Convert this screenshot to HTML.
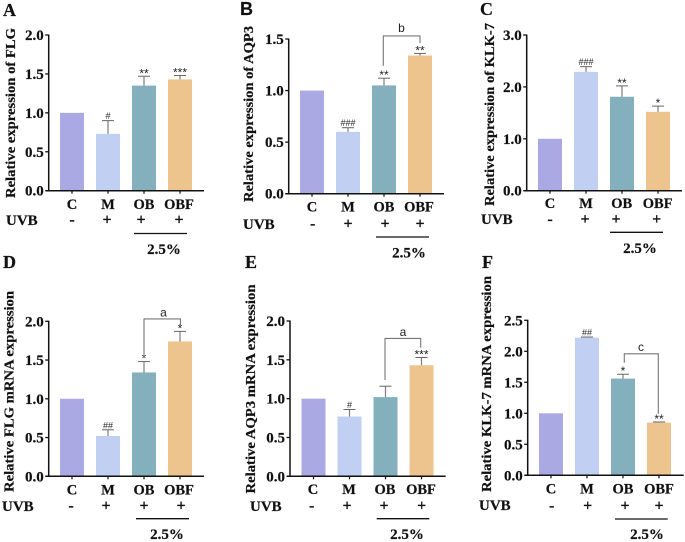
<!DOCTYPE html>
<html lang="en">
<head>
<meta charset="utf-8">
<title>Relative expression charts</title>
<style>
html,body{margin:0;padding:0;background:#fff;width:685px;height:542px;overflow:hidden}
svg{display:block;filter:blur(0.3px)}
.s{font-family:"Liberation Serif",serif;font-weight:bold;fill:#111;stroke:#111;stroke-width:0.2px}
.a{font-family:"Liberation Sans",sans-serif;fill:#222}
</style>
</head>
<body>
<svg id="figure" xmlns="http://www.w3.org/2000/svg" width="685" height="542" viewBox="0 0 685 542"></svg>
<script>
const categories = ['C', 'M', 'OB', 'OBF'];
const uvbSigns = ['-', '+', '+', '+'];
const barColors = ['#aaa9e3', '#c1cff3', '#83b0bc', '#edc48e'];

const ticksA = ['0.0', '0.5', '1.0', '1.5', '2.0'];
const ticksB = ['0.0', '0.5', '1.0', '1.5'];
const ticksC = ['0.0', '1.0', '2.0', '3.0'];
const ticksD = ['0.0', '0.5', '1.0', '1.5', '2.0'];
const ticksE = ['0.0', '0.5', '1.0', '1.5', '2.0'];
const ticksF = ['0.0', '0.5', '1.0', '1.5', '2.0', '2.5'];

const valuesA = [1, 0.73, 1.35, 1.43];
const valuesB = [1, 0.6, 1.05, 1.34];
const valuesC = [1, 2.29, 1.81, 1.52];
const valuesD = [1, 0.52, 1.34, 1.74];
const valuesE = [1, 0.77, 1.02, 1.43];
const valuesF = [1, 2.22, 1.56, 0.85];

const errorsA = [0, 0.17, 0.12, 0.05];
const errorsB = [0, 0.04, 0.07, 0.02];
const errorsC = [0, 0.10, 0.21, 0.11];
const errorsD = [0, 0.08, 0.14, 0.13];
const errorsE = [0, 0.09, 0.14, 0.10];
const errorsF = [0, 0.01, 0.07, 0.01];

const marksA = ['', '#', '**', '***'];
const marksB = ['', '###', '**', '**'];
const marksC = ['', '###', '**', '*'];
const marksD = ['', '##', '*', '*'];
const marksE = ['', '#', '', '***'];
const marksF = ['', '##', '*', '**'];

const titleA = 'Relative expression of FLG';
const titleB = 'Relative expression of AQP3';
const titleC = 'Relative expression of KLK-7';
const titleD = 'Relative FLG mRNA expression';
const titleE = 'Relative AQP3 mRNA expression';
const titleF = 'Relative KLK-7 mRNA expression';

/* bracket values: [left-end value, top value, right-end value] */
const bracketB = [1.24, 1.53, 1.46];
const bracketD = [1.54, 2.03, 1.95];
const bracketE = [1.24, 1.775, 1.655];
const bracketF = [1.816, 1.96, 0.99];

/* Layout only (no data) */
const panels = [
 {id:'A',ticks:ticksA,values:valuesA,errors:errorsA,marks:marksA,title:titleA,bracket:null,letter:'',
  ax:48.7,base:190.7,top:35,right:204,bar0:60,
  lx:3,ly:16,sans:false,tx:15,tc:113,tl:170,
  catY:209,catX:[72,108,144,179],uvbX:6,uvbY:225,signX:[72,107,141,179],signY:220,
  ln:[134,187,233.5],pctX:164,pctY:254},
 {id:'B',ticks:ticksB,values:valuesB,errors:errorsB,marks:marksB,title:titleB,bracket:bracketB,letter:'b',
  ax:288.7,base:193.7,top:39,right:444,bar0:300,
  lx:240,ly:15,sans:true,tx:253,tc:114,tl:176,
  catY:211.5,catX:[312,348,384,419],uvbX:243,uvbY:229,signX:[312.7,348,385,420],signY:224,
  ln:[376,429,237],pctX:409,pctY:257.5,brX:[383.3,420],brL:[401.5,32]},
 {id:'C',ticks:ticksC,values:valuesC,errors:errorsC,marks:marksC,title:titleC,bracket:null,letter:'',
  ax:526.7,base:190.7,top:35,right:682,bar0:538,
  lx:480,ly:15,sans:false,tx:494,tc:114.5,tl:183,
  catY:208,catX:[550,586,621.7,657.7],uvbX:481,uvbY:224,signX:[550,585,616,656.7],signY:219.7,
  ln:[610,663,232.3],pctX:640,pctY:253},
 {id:'D',ticks:ticksD,values:valuesD,errors:errorsD,marks:marksD,title:titleD,bracket:bracketD,letter:'a',
  ax:48.7,base:476.3,top:321.3,right:204,bar0:60,
  lx:3,ly:268,sans:false,tx:13.5,tc:391.5,tl:201,
  catY:494.3,catX:[72,108,144,179],uvbX:2,uvbY:511,signX:[71,106,144,181],signY:506,
  ln:[136,189,518.7],pctX:167,pctY:539,brX:[144,180.5],brL:[163.5,316.5]},
 {id:'E',ticks:ticksE,values:valuesE,errors:errorsE,marks:marksE,title:titleE,bracket:bracketE,letter:'a',
  ax:290,base:476.3,top:321,right:445.7,bar0:301.5,
  lx:245,ly:268,sans:false,tx:255,tc:389,tl:209,
  catY:494,catX:[313,349,385,421],uvbX:250,uvbY:511,signX:[311.7,347,384,421.7],signY:506,
  ln:[376.7,429.3,518.7],pctX:407,pctY:539,brX:[385,420.7],brL:[403,336]},
 {id:'F',ticks:ticksF,values:valuesF,errors:errorsF,marks:marksF,title:titleF,bracket:bracketF,letter:'c',
  ax:527.7,base:475.3,top:320.3,right:683.7,bar0:539,
  lx:482,ly:268,sans:false,tx:491,tc:384,tl:216,
  catY:493.7,catX:[551,587,623,659],uvbX:479,uvbY:510,signX:[551.7,587.7,625,659],signY:506,
  ln:[615,667.7,519],pctX:647,pctY:539,brX:[624.3,658.3],brL:[641,351]}
];

const NS = 'http://www.w3.org/2000/svg';
const BAR_W = 24, BAR_STEP = 36;

function make(tag, attrs, parent, text) {
  const el = document.createElementNS(NS, tag);
  for (const k in attrs) el.setAttribute(k, attrs[k]);
  if (text !== undefined) el.textContent = text;
  parent.appendChild(el);
  return el;
}

const fig = document.getElementById('figure');

panels.forEach(function (p) {
  const key = p.id.toLowerCase();
  const yMax = parseFloat(p.ticks[p.ticks.length - 1]);
  const yScale = function (v) { return p.base - (v / yMax) * (p.base - p.top); };
  const xBar = function (i) { return p.bar0 + i * BAR_STEP; };
  const xMid = function (i) { return xBar(i) + BAR_W / 2; };

  const g = make('g', {}, fig);
  
  

  const letter = make('text', {x: p.lx, y: p.ly, 'font-size': 18, class: 's'}, g, p.id);
  if (p.sans) { letter.setAttribute('style', 'font-family:"Liberation Sans",sans-serif'); }
  
  

  p.values.forEach(function (v, i) {
    const bar = make('rect', {x: xBar(i), y: yScale(v), width: BAR_W, height: p.base - yScale(v), fill: barColors[i]}, g);
    
    

    if (p.errors[i] > 0) {
      const et = yScale(v + p.errors[i]);
      const stem = make('line', {x1: xMid(i), x2: xMid(i), y1: yScale(v), y2: et, stroke: '#7d7d7d', 'stroke-width': 1.2}, g);
      
      
      const cap = make('line', {x1: xMid(i) - 6, x2: xMid(i) + 6, y1: et, y2: et, stroke: '#666', 'stroke-width': 1}, g);
      
      
    }
    if (p.marks[i]) {
      const top = yScale(v + p.errors[i]);
      const isHash = p.marks[i].charAt(0) === '#';
      const mark = make('text', {x: xMid(i), y: isHash ? top - 1.5 : top + 1, 'text-anchor': 'middle', 'font-size': isHash ? 9 : 12, class: 'a'}, g, p.marks[i]);
      
      
    }
  });

  const yAxis = make('line', {x1: p.ax, x2: p.ax, y1: p.top - 0.5, y2: p.base + 0.6, stroke: '#111', 'stroke-width': 1.5}, g);
  
  
  const xAxis = make('line', {x1: p.ax - 3, x2: p.right, y1: p.base, y2: p.base, stroke: '#111', 'stroke-width': 1.5}, g);
  
  

  p.ticks.forEach(function (t) {
    const y = yScale(parseFloat(t));
    const tick = make('line', {x1: p.ax - 3.5, x2: p.ax, y1: y, y2: y, stroke: '#111', 'stroke-width': 1.3}, g);
    
    
    const lab = make('text', {x: p.ax - 5, y: y + 5, 'text-anchor': 'end', 'font-size': 15, class: 's'}, g, t);
    
    
  });

  categories.forEach(function (c, i) {
    const tick = make('line', {x1: xMid(i), x2: xMid(i), y1: p.base, y2: p.base + 3, stroke: '#111', 'stroke-width': 1.2}, g);
    
    
    const lab = make('text', {x: p.catX[i], y: p.catY, 'text-anchor': 'middle', 'font-size': 14.5, class: 's'}, g, c);
    
    
    const sign = make('text', {x: p.signX[i], y: p.signY + 4.5, 'text-anchor': 'middle', 'font-size': 16, class: 's'}, g, uvbSigns[i]);
    
    
  });

  const title = make('text', {transform: 'translate(' + p.tx + ',' + p.tc + ') rotate(-90)', 'text-anchor': 'middle', 'font-size': 14, textLength: p.tl, lengthAdjust: 'spacingAndGlyphs', class: 's'}, g, p.title);
  
  

  const uvb = make('text', {x: p.uvbX, y: p.uvbY, 'font-size': 15, class: 's'}, g, 'UVB');
  
  

  const rule = make('line', {x1: p.ln[0], x2: p.ln[1], y1: p.ln[2], y2: p.ln[2], stroke: '#111', 'stroke-width': 1.3}, g);
  
  
  const pct = make('text', {x: p.pctX, y: p.pctY, 'text-anchor': 'middle', 'font-size': 15, class: 's'}, g, '2.5%');
  
  

  if (p.bracket) {
    const d = 'M' + p.brX[0] + ' ' + yScale(p.bracket[0]) + ' V' + yScale(p.bracket[1]) + ' H' + p.brX[1] + ' V' + yScale(p.bracket[2]);
    const br = make('path', {d: d, fill: 'none', stroke: '#777', 'stroke-width': 1.1}, g);
    
    
    const bl = make('text', {x: p.brL[0], y: p.brL[1], 'text-anchor': 'middle', 'font-size': 12, class: 'a'}, g, p.letter);
    
    
  }
});
</script>
</body>
</html>
